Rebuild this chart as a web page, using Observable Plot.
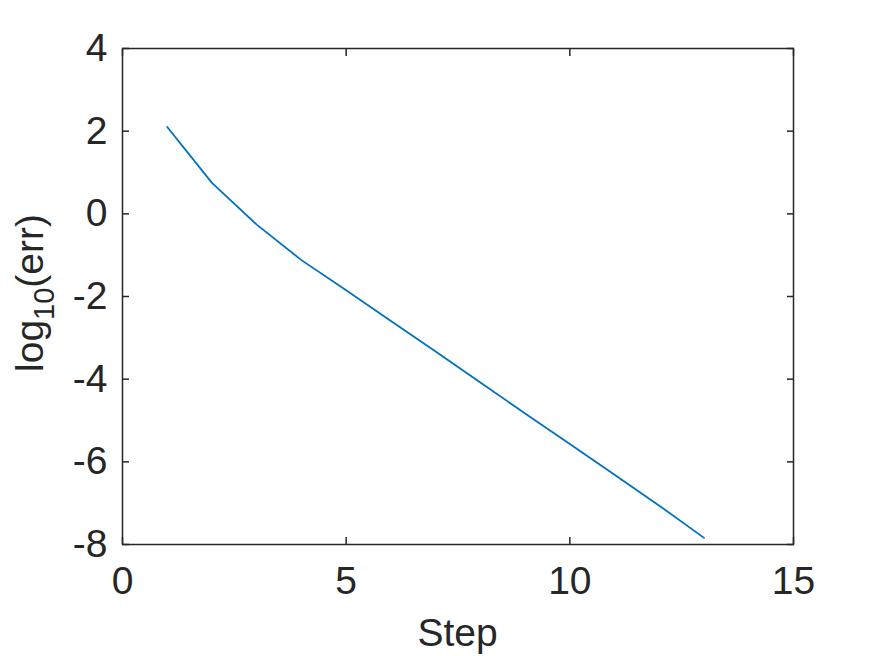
<!DOCTYPE html>
<html>
<head>
<meta charset="utf-8">
<script src="https://cdn.jsdelivr.net/npm/d3@7"></script>
<script src="https://cdn.jsdelivr.net/npm/@observablehq/plot@0.6"></script>
<style>
  html, body { margin: 0; padding: 0; background: #fff; }
  #chart svg { display: block; }
</style>
</head>
<body>
<div id="chart"></div>
<script>
const steps = [1, 2, 3, 4, 5, 6, 7, 8, 9, 10, 11, 12, 13];
const logErr = [2.10, 0.75, -0.26, -1.12, -1.85, -2.59, -3.33, -4.08, -4.83, -5.57, -6.31, -7.06, -7.84];
const xTicks = [0, 5, 10, 15];
const yTicks = [-8, -6, -4, -2, 0, 2, 4];

const data = steps.map((s, i) => ({step: s, val: logErr[i]}));
const axisColor = "#262626";
const font = "'Liberation Sans', Arial, Helvetica, sans-serif";
const fmt = d => String(d);
const none = () => "";

const chart = Plot.plot({
  width: 875,
  height: 656,
  marginLeft: 122,
  marginRight: 82,
  marginTop: 48,
  marginBottom: 112,
  style: {fontFamily: font, fontSize: "39px", color: axisColor, background: "#fff"},
  x: {domain: [0, 15]},
  y: {domain: [-8, 4]},
  marks: [
    Plot.lineY(data, {x: "step", y: "val", stroke: "#0072BD", strokeWidth: 1.8}),
    Plot.frame({stroke: axisColor, strokeWidth: 1.5}),
    Plot.axisX(xTicks, {anchor: "bottom", tickSize: -7, tickPadding: 29, tickFormat: fmt, stroke: axisColor, strokeWidth: 1.5, fill: axisColor, label: null, fontSize: 39}),
    Plot.axisX(xTicks, {anchor: "top", tickSize: -7, tickFormat: none, stroke: axisColor, strokeWidth: 1.5, label: null}),
    Plot.axisY(yTicks, {anchor: "left", tickSize: -7, tickPadding: 22, tickFormat: fmt, stroke: axisColor, strokeWidth: 1.5, fill: axisColor, label: null, fontSize: 39}),
    Plot.axisY(yTicks, {anchor: "right", tickSize: -7, tickFormat: none, stroke: axisColor, strokeWidth: 1.5, label: null})
  ]
});

document.getElementById("chart").appendChild(chart);

const svg = d3.select(chart);
svg.append("text")
  .attr("x", 457.5).attr("y", 646)
  .attr("text-anchor", "middle")
  .attr("fill", axisColor)
  .style("font-family", font).style("font-size", "39px")
  .text("Step");

const yl = svg.append("text")
  .attr("transform", "translate(43,293) rotate(-90)")
  .attr("text-anchor", "middle")
  .attr("fill", axisColor)
  .style("font-family", font).style("font-size", "39px");
yl.append("tspan").text("log");
yl.append("tspan").attr("dy", 11).style("font-size", "29px").text("10");
yl.append("tspan").attr("dy", -11).text("(err)");
</script>
</body>
</html>
